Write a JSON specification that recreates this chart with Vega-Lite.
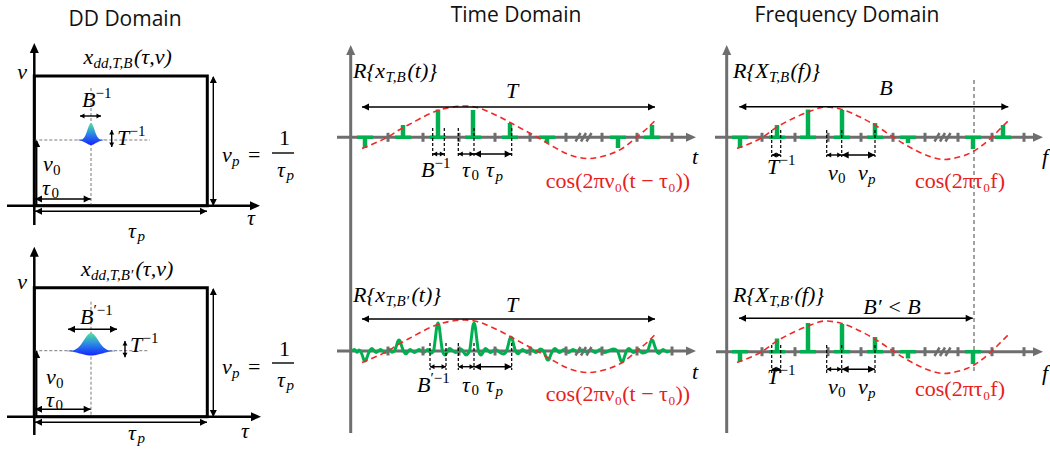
{
"$schema": "https://vega.github.io/schema/vega-lite/v6.json",
"width": 1050, "height": 452, "padding": 0,
"autosize": {"type": "fit", "contains": "padding"},
"background": "white",
"config": {"view": {"stroke": null}},
"datasets": {
"boxes": [{"x":34.3,"x2":207.3,"y":76,"y2":205.7},{"x":34.3,"x2":207.3,"y":287.7,"y2":416.7}],
"segs": [
{"k":"ax","x":34.3,"y":225,"x2":34.3,"y2":48},
{"k":"ax","x":7,"y":205.7,"x2":255,"y2":205.7},
{"k":"ax","x":34.3,"y":435,"x2":34.3,"y2":251},
{"k":"ax","x":7,"y":416.7,"x2":256,"y2":416.7},
{"k":"gax","x":350.7,"y":433,"x2":350.7,"y2":50},
{"k":"gax","x":337,"y":137.3,"x2":690,"y2":137.3},
{"k":"gax","x":337,"y":351,"x2":690,"y2":351},
{"k":"gax","x":726.7,"y":433,"x2":726.7,"y2":50},
{"k":"gax","x":715,"y":137.3,"x2":1037,"y2":137.3},
{"k":"gax","x":716,"y":351.7,"x2":1037,"y2":351.7},
{"k":"ar","x":213.3,"y":77,"x2":213.3,"y2":205},
{"k":"ar","x":35,"y":211.3,"x2":207,"y2":211.3},
{"k":"ar","x":35,"y":199,"x2":90.7,"y2":199},
{"k":"ar","x":36.7,"y":205,"x2":36.7,"y2":141},
{"k":"ar","x":80,"y":116,"x2":101,"y2":116},
{"k":"ar","x":111.7,"y":130,"x2":111.7,"y2":147},
{"k":"ar","x":272,"y":153,"x2":294,"y2":153},
{"k":"ar","x":213.3,"y":289,"x2":213.3,"y2":416},
{"k":"ar","x":35,"y":422.3,"x2":207,"y2":422.3},
{"k":"ar","x":35,"y":409.3,"x2":90.7,"y2":409.3},
{"k":"ar","x":36.7,"y":416,"x2":36.7,"y2":351},
{"k":"ar","x":68,"y":329.3,"x2":117,"y2":329.3},
{"k":"ar","x":125,"y":341,"x2":125,"y2":357.3},
{"k":"ar","x":272,"y":363,"x2":294,"y2":363},
{"k":"ar","x":362,"y":107,"x2":655,"y2":107},
{"k":"ar","x":432.7,"y":154,"x2":444.3,"y2":154},
{"k":"ar","x":458.3,"y":154,"x2":474,"y2":154},
{"k":"ar","x":474,"y":154,"x2":511.7,"y2":154},
{"k":"ar","x":362,"y":319,"x2":655,"y2":319},
{"k":"ar","x":430,"y":366.7,"x2":446,"y2":366.7},
{"k":"ar","x":458.3,"y":366.7,"x2":474,"y2":366.7},
{"k":"ar","x":474,"y":366.7,"x2":511.7,"y2":366.7},
{"k":"ar","x":739.3,"y":106.7,"x2":1008.3,"y2":106.7},
{"k":"ar","x":771.7,"y":155,"x2":780.7,"y2":155},
{"k":"ar","x":826.7,"y":155,"x2":841.7,"y2":155},
{"k":"ar","x":841.7,"y":155,"x2":875,"y2":155},
{"k":"ar","x":739,"y":318.3,"x2":972.7,"y2":318.3},
{"k":"ar","x":771.7,"y":369.3,"x2":780.7,"y2":369.3},
{"k":"ar","x":826.7,"y":369.3,"x2":841.7,"y2":369.3},
{"k":"ar","x":841.7,"y":369.3,"x2":875,"y2":369.3},
{"k":"tick","x":388,"y":132.8,"x2":388,"y2":141.8},
{"k":"tick","x":423,"y":132.8,"x2":423,"y2":141.8},
{"k":"tick","x":459,"y":132.8,"x2":459,"y2":141.8},
{"k":"tick","x":495,"y":132.8,"x2":495,"y2":141.8},
{"k":"tick","x":530,"y":132.8,"x2":530,"y2":141.8},
{"k":"tick","x":566,"y":132.8,"x2":566,"y2":141.8},
{"k":"tick","x":602,"y":132.8,"x2":602,"y2":141.8},
{"k":"tick","x":637,"y":132.8,"x2":637,"y2":141.8},
{"k":"tick","x":672,"y":132.8,"x2":672,"y2":141.8},
{"k":"tick","x":388,"y":346.5,"x2":388,"y2":355.5},
{"k":"tick","x":423,"y":346.5,"x2":423,"y2":355.5},
{"k":"tick","x":459,"y":346.5,"x2":459,"y2":355.5},
{"k":"tick","x":495,"y":346.5,"x2":495,"y2":355.5},
{"k":"tick","x":530,"y":346.5,"x2":530,"y2":355.5},
{"k":"tick","x":566,"y":346.5,"x2":566,"y2":355.5},
{"k":"tick","x":602,"y":346.5,"x2":602,"y2":355.5},
{"k":"tick","x":637,"y":346.5,"x2":637,"y2":355.5},
{"k":"tick","x":672,"y":346.5,"x2":672,"y2":355.5},
{"k":"tick","x":762,"y":132.8,"x2":762,"y2":141.8},
{"k":"tick","x":795,"y":132.8,"x2":795,"y2":141.8},
{"k":"tick","x":828,"y":132.8,"x2":828,"y2":141.8},
{"k":"tick","x":861,"y":132.8,"x2":861,"y2":141.8},
{"k":"tick","x":893,"y":132.8,"x2":893,"y2":141.8},
{"k":"tick","x":925,"y":132.8,"x2":925,"y2":141.8},
{"k":"tick","x":958,"y":132.8,"x2":958,"y2":141.8},
{"k":"tick","x":992,"y":132.8,"x2":992,"y2":141.8},
{"k":"tick","x":1024,"y":132.8,"x2":1024,"y2":141.8},
{"k":"tick","x":762,"y":347.2,"x2":762,"y2":356.2},
{"k":"tick","x":795,"y":347.2,"x2":795,"y2":356.2},
{"k":"tick","x":828,"y":347.2,"x2":828,"y2":356.2},
{"k":"tick","x":861,"y":347.2,"x2":861,"y2":356.2},
{"k":"tick","x":893,"y":347.2,"x2":893,"y2":356.2},
{"k":"tick","x":925,"y":347.2,"x2":925,"y2":356.2},
{"k":"tick","x":958,"y":347.2,"x2":958,"y2":356.2},
{"k":"tick","x":992,"y":347.2,"x2":992,"y2":356.2},
{"k":"tick","x":1024,"y":347.2,"x2":1024,"y2":356.2},
{"k":"slash","x":575.5,"y":141.5,"x2":580.5,"y2":133},
{"k":"slash","x":581,"y":141.5,"x2":586,"y2":133},
{"k":"slash","x":586.5,"y":141.5,"x2":591.5,"y2":133},
{"k":"slash","x":575.5,"y":355.5,"x2":580.5,"y2":347},
{"k":"slash","x":581,"y":355.5,"x2":586,"y2":347},
{"k":"slash","x":586.5,"y":355.5,"x2":591.5,"y2":347},
{"k":"slash","x":934.5,"y":141.5,"x2":939.5,"y2":133},
{"k":"slash","x":940,"y":141.5,"x2":945,"y2":133},
{"k":"slash","x":945.5,"y":141.5,"x2":950.5,"y2":133},
{"k":"slash","x":934.5,"y":356,"x2":939.5,"y2":347.5},
{"k":"slash","x":940,"y":356,"x2":945,"y2":347.5},
{"k":"slash","x":945.5,"y":356,"x2":950.5,"y2":347.5},
{"k":"dash","x":432.7,"y":128,"x2":432.7,"y2":157},
{"k":"dash","x":444.3,"y":128,"x2":444.3,"y2":157},
{"k":"dash","x":458.3,"y":128,"x2":458.3,"y2":157},
{"k":"dash","x":474,"y":128,"x2":474,"y2":157},
{"k":"dash","x":511.7,"y":128,"x2":511.7,"y2":157},
{"k":"dash","x":430,"y":343,"x2":430,"y2":370},
{"k":"dash","x":446,"y":343,"x2":446,"y2":370},
{"k":"dash","x":458.3,"y":343,"x2":458.3,"y2":370},
{"k":"dash","x":474,"y":343,"x2":474,"y2":370},
{"k":"dash","x":511.7,"y":343,"x2":511.7,"y2":370},
{"k":"dash","x":771.7,"y":130,"x2":771.7,"y2":157},
{"k":"dash","x":780.7,"y":130,"x2":780.7,"y2":157},
{"k":"dash","x":826.7,"y":130,"x2":826.7,"y2":157},
{"k":"dash","x":841.7,"y":130,"x2":841.7,"y2":157},
{"k":"dash","x":875,"y":130,"x2":875,"y2":157},
{"k":"dash","x":771.7,"y":345,"x2":771.7,"y2":373},
{"k":"dash","x":780.7,"y":345,"x2":780.7,"y2":373},
{"k":"dash","x":826.7,"y":345,"x2":826.7,"y2":373},
{"k":"dash","x":841.7,"y":345,"x2":841.7,"y2":373},
{"k":"dash","x":875,"y":345,"x2":875,"y2":373},
{"k":"gdash","x":34.3,"y":140,"x2":150,"y2":140},
{"k":"gdash","x":91,"y":88,"x2":91,"y2":205.7},
{"k":"gdash","x":34.3,"y":350.7,"x2":148,"y2":350.7},
{"k":"gdash","x":91,"y":301.7,"x2":91,"y2":416.7},
{"k":"vdash","x":974,"y":80,"x2":974,"y2":372}
],
"heads": [
{"x":34.3,"y":43,"d":"u","z":"big","c":"a"},
{"x":260,"y":205.7,"d":"r","z":"big","c":"a"},
{"x":34.3,"y":246.7,"d":"u","z":"big","c":"a"},
{"x":261,"y":416.7,"d":"r","z":"big","c":"a"},
{"x":350.7,"y":45,"d":"u","z":"big","c":"g"},
{"x":696,"y":137.3,"d":"r","z":"big","c":"g"},
{"x":696,"y":351,"d":"r","z":"big","c":"g"},
{"x":726.7,"y":45,"d":"u","z":"big","c":"g"},
{"x":1043,"y":137.3,"d":"r","z":"big","c":"g"},
{"x":1043,"y":351.7,"d":"r","z":"big","c":"g"},
{"x":213.3,"y":76,"d":"u","z":"mid"},
{"x":213.3,"y":206,"d":"d","z":"mid"},
{"x":35,"y":211.3,"d":"l","z":"mid"},
{"x":207,"y":211.3,"d":"r","z":"mid"},
{"x":35,"y":199,"d":"l","z":"mid"},
{"x":90.7,"y":199,"d":"r","z":"mid"},
{"x":36.7,"y":140,"d":"u","z":"mid"},
{"x":80,"y":116,"d":"l","z":"sm"},
{"x":101,"y":116,"d":"r","z":"sm"},
{"x":111.7,"y":130,"d":"u","z":"sm"},
{"x":111.7,"y":147,"d":"d","z":"sm"},
{"x":213.3,"y":288,"d":"u","z":"mid"},
{"x":213.3,"y":417,"d":"d","z":"mid"},
{"x":35,"y":422.3,"d":"l","z":"mid"},
{"x":207,"y":422.3,"d":"r","z":"mid"},
{"x":35,"y":409.3,"d":"l","z":"mid"},
{"x":90.7,"y":409.3,"d":"r","z":"mid"},
{"x":36.7,"y":351,"d":"u","z":"mid"},
{"x":68,"y":329.3,"d":"l","z":"mid"},
{"x":117,"y":329.3,"d":"r","z":"mid"},
{"x":125,"y":341,"d":"u","z":"sm"},
{"x":125,"y":357.3,"d":"d","z":"sm"},
{"x":362,"y":107,"d":"l","z":"mid"},
{"x":655,"y":107,"d":"r","z":"mid"},
{"x":432.7,"y":154,"d":"l","z":"sm"},
{"x":444.3,"y":154,"d":"r","z":"sm"},
{"x":458.3,"y":154,"d":"l","z":"sm"},
{"x":474,"y":154,"d":"r","z":"sm"},
{"x":474,"y":154,"d":"l","z":"mid"},
{"x":511.7,"y":154,"d":"r","z":"mid"},
{"x":362,"y":319,"d":"l","z":"mid"},
{"x":655,"y":319,"d":"r","z":"mid"},
{"x":430,"y":366.7,"d":"l","z":"sm"},
{"x":446,"y":366.7,"d":"r","z":"sm"},
{"x":458.3,"y":366.7,"d":"l","z":"sm"},
{"x":474,"y":366.7,"d":"r","z":"sm"},
{"x":474,"y":366.7,"d":"l","z":"mid"},
{"x":511.7,"y":366.7,"d":"r","z":"mid"},
{"x":739.3,"y":106.7,"d":"l","z":"mid"},
{"x":1008.3,"y":106.7,"d":"r","z":"mid"},
{"x":771.7,"y":155,"d":"l","z":"sm"},
{"x":780.7,"y":155,"d":"r","z":"sm"},
{"x":826.7,"y":155,"d":"l","z":"sm"},
{"x":841.7,"y":155,"d":"r","z":"sm"},
{"x":841.7,"y":155,"d":"l","z":"mid"},
{"x":875,"y":155,"d":"r","z":"mid"},
{"x":739,"y":318.3,"d":"l","z":"mid"},
{"x":972.7,"y":318.3,"d":"r","z":"mid"},
{"x":771.7,"y":369.3,"d":"l","z":"sm"},
{"x":780.7,"y":369.3,"d":"r","z":"sm"},
{"x":826.7,"y":369.3,"d":"l","z":"sm"},
{"x":841.7,"y":369.3,"d":"r","z":"sm"},
{"x":841.7,"y":369.3,"d":"l","z":"mid"},
{"x":875,"y":369.3,"d":"r","z":"mid"}
],
"spikes": [
{"x":365,"y":137.3,"y2":148,"lo":357,"hi":373},
{"x":403,"y":137.3,"y2":125,"lo":395,"hi":411},
{"x":438,"y":137.3,"y2":109.5,"lo":430,"hi":446},
{"x":473,"y":137.3,"y2":110,"lo":465,"hi":481},
{"x":510,"y":137.3,"y2":123,"lo":502,"hi":518},
{"x":547,"y":137.3,"y2":143,"lo":539,"hi":555},
{"x":618,"y":137.3,"y2":148,"lo":610,"hi":626},
{"x":652,"y":137.3,"y2":125,"lo":644,"hi":660},
{"x":740,"y":137.3,"y2":148,"lo":732,"hi":748},
{"x":777,"y":137.3,"y2":125,"lo":769,"hi":785},
{"x":808,"y":137.3,"y2":109.5,"lo":800,"hi":816},
{"x":842,"y":137.3,"y2":110,"lo":834,"hi":850},
{"x":875,"y":137.3,"y2":123,"lo":867,"hi":883},
{"x":908,"y":137.3,"y2":143,"lo":900,"hi":916},
{"x":973,"y":137.3,"y2":149,"lo":965,"hi":981},
{"x":1003,"y":137.3,"y2":125,"lo":995,"hi":1011},
{"x":740,"y":351.7,"y2":361.7,"lo":732,"hi":748},
{"x":777,"y":351.7,"y2":338.5,"lo":769,"hi":785},
{"x":808,"y":351.7,"y2":323,"lo":800,"hi":816},
{"x":842,"y":351.7,"y2":324,"lo":834,"hi":850},
{"x":875,"y":351.7,"y2":337,"lo":867,"hi":883},
{"x":908,"y":351.7,"y2":358.5,"lo":900,"hi":916},
{"x":973,"y":351.7,"y2":364,"lo":965,"hi":981}
],
"wave": [
{"x":352,"y":351},{"x":354.5,"y":349.5},{"x":357,"y":352.3},{"x":359,"y":350},{"x":360.5,"y":351},
{"x":362.5,"y":356},{"x":363.8,"y":359.8},{"x":365,"y":361},{"x":366.2,"y":359.8},{"x":367.5,"y":356},{"x":369.5,"y":351},
{"x":372,"y":348.5},{"x":376,"y":352.5},{"x":380.5,"y":349.5},{"x":385,"y":352.5},{"x":389.5,"y":349.5},{"x":392,"y":352.2},{"x":394.5,"y":351},
{"x":396.5,"y":345.5},{"x":397.8,"y":341.3},{"x":399,"y":340},{"x":400.2,"y":341.3},{"x":401.5,"y":345.5},{"x":403.5,"y":351},
{"x":406,"y":353.8},{"x":410,"y":349.5},{"x":414.5,"y":352.5},{"x":419,"y":349.5},{"x":423.5,"y":352.5},{"x":428,"y":349.5},{"x":431,"y":353.3},{"x":433.5,"y":351},
{"x":435.5,"y":337},{"x":436.8,"y":326.4},{"x":438,"y":323},{"x":439.2,"y":326.4},{"x":440.5,"y":337},{"x":442.5,"y":351},
{"x":445,"y":355},{"x":449.5,"y":348.5},{"x":455.5,"y":352.5},{"x":461,"y":349},{"x":466,"y":354.8},{"x":469.5,"y":351},
{"x":471.5,"y":337},{"x":472.8,"y":326.4},{"x":474,"y":323},{"x":475.2,"y":326.4},{"x":476.5,"y":337},{"x":478.5,"y":351},
{"x":481,"y":355},{"x":485.5,"y":348.5},{"x":490.5,"y":352.5},{"x":495.5,"y":349.5},{"x":500,"y":352.5},{"x":503.5,"y":354},{"x":506.5,"y":351},
{"x":508.5,"y":344},{"x":509.8,"y":338.7},{"x":511,"y":337},{"x":512.2,"y":338.7},{"x":513.5,"y":344},{"x":515.5,"y":351},
{"x":518,"y":353.8},{"x":522.5,"y":349.5},{"x":527,"y":352.5},{"x":531.5,"y":349.5},{"x":536,"y":352.5},{"x":540.5,"y":349},{"x":543.5,"y":351},
{"x":545.5,"y":355.5},{"x":546.8,"y":358.9},{"x":548,"y":360},{"x":549.2,"y":358.9},{"x":550.5,"y":355.5},{"x":552.5,"y":351},
{"x":555,"y":348.5},{"x":559.5,"y":352.5},{"x":564,"y":349.5},{"x":568.5,"y":352.5},{"x":573,"y":349.5},{"x":577.5,"y":352},{"x":582,"y":350},{"x":586.5,"y":352},{"x":591,"y":350},{"x":595.5,"y":352.5},{"x":600,"y":349.5},{"x":604.5,"y":352.5},{"x":609.5,"y":350.5},{"x":613.5,"y":349},{"x":617.5,"y":351},
{"x":619.5,"y":356.5},{"x":620.8,"y":360.7},{"x":622,"y":362},{"x":623.2,"y":360.7},{"x":624.5,"y":356.5},{"x":626.5,"y":351},
{"x":629,"y":348.5},{"x":633.5,"y":352.5},{"x":638,"y":349.5},{"x":642.5,"y":353},{"x":647.5,"y":351},
{"x":649.5,"y":345.5},{"x":650.8,"y":341.3},{"x":652,"y":340},{"x":653.2,"y":341.3},{"x":654.5,"y":345.5},{"x":656.5,"y":351},
{"x":659,"y":353.5},{"x":663,"y":349.5},{"x":667,"y":352},{"x":670,"y":351}
],
"red": [
{"c":"t1","x":362,"y":148.5},{"c":"t1","x":374,"y":143.5},{"c":"t1","x":387,"y":137.5},{"c":"t1","x":399,"y":130},{"c":"t1","x":412,"y":123},{"c":"t1","x":425,"y":116},{"c":"t1","x":438,"y":110.5},{"c":"t1","x":452,"y":107},{"c":"t1","x":465,"y":106},{"c":"t1","x":477,"y":107.5},{"c":"t1","x":488,"y":111.5},{"c":"t1","x":500,"y":117},{"c":"t1","x":512,"y":123.5},{"c":"t1","x":524,"y":130},{"c":"t1","x":537,"y":137},{"c":"t1","x":553,"y":146.5},{"c":"t1","x":570,"y":155},{"c":"t1","x":588,"y":158.5},{"c":"t1","x":606,"y":155.5},{"c":"t1","x":623,"y":148},{"c":"t1","x":635,"y":138.5},{"c":"t1","x":647,"y":128.5},{"c":"t1","x":657,"y":118.5},
{"c":"t2","x":362,"y":362.5},{"c":"t2","x":374,"y":357.5},{"c":"t2","x":387,"y":351.5},{"c":"t2","x":399,"y":344},{"c":"t2","x":412,"y":337},{"c":"t2","x":425,"y":330},{"c":"t2","x":438,"y":324.5},{"c":"t2","x":452,"y":321},{"c":"t2","x":465,"y":320},{"c":"t2","x":477,"y":321.5},{"c":"t2","x":488,"y":325.5},{"c":"t2","x":500,"y":331},{"c":"t2","x":512,"y":337.5},{"c":"t2","x":524,"y":344},{"c":"t2","x":537,"y":351},{"c":"t2","x":553,"y":360.5},{"c":"t2","x":570,"y":369},{"c":"t2","x":588,"y":372.5},{"c":"t2","x":606,"y":369.5},{"c":"t2","x":623,"y":362},{"c":"t2","x":635,"y":352.5},{"c":"t2","x":647,"y":342.5},{"c":"t2","x":657,"y":332.5},
{"c":"f1","x":737,"y":148.5},{"c":"f1","x":750,"y":143.5},{"c":"f1","x":762,"y":137.5},{"c":"f1","x":777,"y":127},{"c":"f1","x":792,"y":119},{"c":"f1","x":807,"y":112.5},{"c":"f1","x":825,"y":107},{"c":"f1","x":842,"y":109.5},{"c":"f1","x":863,"y":118.5},{"c":"f1","x":878,"y":127},{"c":"f1","x":893,"y":137},{"c":"f1","x":905,"y":144.5},{"c":"f1","x":917,"y":151},{"c":"f1","x":930,"y":156.5},{"c":"f1","x":943,"y":159.5},{"c":"f1","x":955,"y":158},{"c":"f1","x":967,"y":154.5},{"c":"f1","x":980,"y":147},{"c":"f1","x":992,"y":137},{"c":"f1","x":1001,"y":128},{"c":"f1","x":1010,"y":119},
{"c":"f2","x":737,"y":362.5},{"c":"f2","x":750,"y":357.5},{"c":"f2","x":762,"y":351.5},{"c":"f2","x":777,"y":341},{"c":"f2","x":792,"y":333},{"c":"f2","x":807,"y":326.5},{"c":"f2","x":825,"y":321},{"c":"f2","x":842,"y":323.5},{"c":"f2","x":863,"y":332.5},{"c":"f2","x":878,"y":341},{"c":"f2","x":893,"y":351},{"c":"f2","x":905,"y":358.5},{"c":"f2","x":917,"y":365},{"c":"f2","x":930,"y":370.5},{"c":"f2","x":943,"y":373.5},{"c":"f2","x":955,"y":372},{"c":"f2","x":967,"y":368.5},{"c":"f2","x":980,"y":361},{"c":"f2","x":992,"y":351},{"c":"f2","x":1001,"y":342},{"c":"f2","x":1010,"y":333}
],
"blobs": [
{"b":"1","x":77,"y":139.8,"y2":140.1},{"b":"1","x":81,"y":139.7,"y2":140.7},{"b":"1","x":84,"y":137.7,"y2":141.9},{"b":"1","x":86,"y":133.9,"y2":143},{"b":"1","x":88,"y":128.2,"y2":144.2},{"b":"1","x":89.5,"y":124.5,"y2":144.8},{"b":"1","x":91,"y":123,"y2":145},{"b":"1","x":92.5,"y":124.5,"y2":144.8},{"b":"1","x":94,"y":128.2,"y2":144.2},{"b":"1","x":96,"y":133.9,"y2":143},{"b":"1","x":98,"y":137.7,"y2":141.9},{"b":"1","x":101,"y":139.7,"y2":140.7},{"b":"1","x":105,"y":139.8,"y2":140.1},
{"b":"2","x":67,"y":350.8,"y2":351.3},{"b":"2","x":71,"y":350.7,"y2":351.6},{"b":"2","x":75,"y":349.7,"y2":352.3},{"b":"2","x":78,"y":347.8,"y2":352.9},{"b":"2","x":81,"y":344.5,"y2":353.7},{"b":"2","x":83,"y":341.6,"y2":354.3},{"b":"2","x":85,"y":338.5,"y2":354.8},{"b":"2","x":87,"y":335.7,"y2":355.2},{"b":"2","x":89,"y":333.7,"y2":355.4},{"b":"2","x":91,"y":333,"y2":355.5},{"b":"2","x":93,"y":333.7,"y2":355.4},{"b":"2","x":95,"y":335.7,"y2":355.2},{"b":"2","x":97,"y":338.5,"y2":354.8},{"b":"2","x":99,"y":341.6,"y2":354.3},{"b":"2","x":101,"y":344.5,"y2":353.7},{"b":"2","x":104,"y":347.8,"y2":352.9},{"b":"2","x":107,"y":349.7,"y2":352.3},{"b":"2","x":111,"y":350.7,"y2":351.6},{"b":"2","x":115,"y":350.8,"y2":351.3}
],
"txt": [
{"k":"title","x":125,"y":20,"t":"DD Domain"},
{"k":"title","x":516,"y":16,"t":"Time Domain"},
{"k":"title","x":847,"y":16,"t":"Frequency Domain"},
{"k":"mi","x":83.5,"y":57,"t":"x"},
{"k":"si","x":93.5,"y":63,"t":"dd,T,B"},
{"k":"mi","x":134,"y":57,"t":"(τ,ν)"},
{"k":"mc","x":22,"y":72,"t":"ν"},
{"k":"mi","x":82,"y":100,"t":"B"},
{"k":"su","x":95.5,"y":93,"t":"−1"},
{"k":"mi","x":117,"y":138,"t":"T"},
{"k":"su","x":129.5,"y":131,"t":"−1"},
{"k":"mi","x":43,"y":164,"t":"ν"},
{"k":"su","x":53,"y":170,"t":"0"},
{"k":"mi","x":42,"y":188,"t":"τ"},
{"k":"su","x":51.5,"y":193,"t":"0"},
{"k":"mi","x":128,"y":231,"t":"τ"},
{"k":"si","x":137.5,"y":236,"t":"p"},
{"k":"mc","x":251,"y":218,"t":"τ"},
{"k":"mi","x":222,"y":155,"t":"ν"},
{"k":"si","x":232,"y":161,"t":"p"},
{"k":"mu","x":248,"y":155,"t":"="},
{"k":"mu","x":279,"y":138,"t":"1"},
{"k":"mi","x":277,"y":170,"t":"τ"},
{"k":"si","x":286.5,"y":175,"t":"p"},
{"k":"mi","x":81,"y":269,"t":"x"},
{"k":"si","x":91,"y":275,"t":"dd,T,B′"},
{"k":"mi","x":135.5,"y":269,"t":"(τ,ν)"},
{"k":"mc","x":22,"y":282,"t":"ν"},
{"k":"mi","x":80,"y":317,"t":"B"},
{"k":"su","x":93.5,"y":310,"t":"′−1"},
{"k":"mi","x":130,"y":345,"t":"T"},
{"k":"su","x":142.5,"y":338,"t":"−1"},
{"k":"mi","x":46,"y":377,"t":"ν"},
{"k":"su","x":56,"y":383,"t":"0"},
{"k":"mi","x":46,"y":400,"t":"τ"},
{"k":"su","x":55.5,"y":405,"t":"0"},
{"k":"mi","x":128,"y":433,"t":"τ"},
{"k":"si","x":137.5,"y":438,"t":"p"},
{"k":"mc","x":245,"y":431,"t":"τ"},
{"k":"mi","x":222,"y":367,"t":"ν"},
{"k":"si","x":232,"y":373,"t":"p"},
{"k":"mu","x":248,"y":367,"t":"="},
{"k":"mu","x":279,"y":349,"t":"1"},
{"k":"mi","x":277,"y":380,"t":"τ"},
{"k":"si","x":286.5,"y":385,"t":"p"},
{"k":"mi","x":353,"y":71,"t":"R{x"},
{"k":"si","x":385.5,"y":77,"t":"T,B"},
{"k":"mi","x":407.5,"y":71,"t":"(t)}"},
{"k":"mc","x":512,"y":91,"t":"T"},
{"k":"mi","x":421,"y":170,"t":"B"},
{"k":"su","x":434.5,"y":163,"t":"−1"},
{"k":"mi","x":462,"y":170,"t":"τ"},
{"k":"su","x":471.5,"y":175,"t":"0"},
{"k":"mi","x":486,"y":170,"t":"τ"},
{"k":"si","x":495.5,"y":176,"t":"p"},
{"k":"mc","x":695,"y":157,"t":"t"},
{"k":"r","x":618,"y":181,"t":"cos(2πν₀(t − τ₀))"},
{"k":"mi","x":353,"y":295,"t":"R{x"},
{"k":"si","x":385.5,"y":301,"t":"T,B′"},
{"k":"mi","x":411.5,"y":295,"t":"(t)}"},
{"k":"mc","x":512,"y":305,"t":"T"},
{"k":"mi","x":417,"y":385,"t":"B"},
{"k":"su","x":430.5,"y":378,"t":"′−1"},
{"k":"mi","x":462,"y":385,"t":"τ"},
{"k":"su","x":471.5,"y":390,"t":"0"},
{"k":"mi","x":486,"y":385,"t":"τ"},
{"k":"si","x":495.5,"y":391,"t":"p"},
{"k":"mc","x":695,"y":372,"t":"t"},
{"k":"r","x":618,"y":394,"t":"cos(2πν₀(t − τ₀))"},
{"k":"mi","x":733,"y":71,"t":"R{X"},
{"k":"si","x":769,"y":77,"t":"T,B"},
{"k":"mi","x":790.5,"y":71,"t":"(f)}"},
{"k":"mc","x":886,"y":88,"t":"B"},
{"k":"mi","x":767,"y":167,"t":"T"},
{"k":"su","x":779.5,"y":160,"t":"−1"},
{"k":"mi","x":828,"y":173,"t":"ν"},
{"k":"su","x":838,"y":178,"t":"0"},
{"k":"mi","x":858,"y":173,"t":"ν"},
{"k":"si","x":868,"y":179,"t":"p"},
{"k":"mc","x":1045,"y":157,"t":"f"},
{"k":"r","x":960,"y":181,"t":"cos(2πτ₀f)"},
{"k":"mi","x":733,"y":295,"t":"R{X"},
{"k":"si","x":769,"y":301,"t":"T,B′"},
{"k":"mi","x":794.5,"y":295,"t":"(f)}"},
{"k":"mc","x":892,"y":307,"t":"B′ < B"},
{"k":"mi","x":767,"y":377,"t":"T"},
{"k":"su","x":779.5,"y":370,"t":"−1"},
{"k":"mi","x":828,"y":387,"t":"ν"},
{"k":"su","x":838,"y":392,"t":"0"},
{"k":"mi","x":858,"y":387,"t":"ν"},
{"k":"si","x":868,"y":393,"t":"p"},
{"k":"mc","x":1045,"y":373,"t":"f"},
{"k":"r","x":960,"y":389,"t":"cos(2πτ₀f)"}
]
},
"encoding": {
"x": {"field": "x", "type": "quantitative", "scale": {"domain": [0, 1050], "nice": false, "zero": false}, "axis": null},
"y": {"field": "y", "type": "quantitative", "scale": {"domain": [0, 452], "nice": false, "zero": false, "reverse": true}, "axis": null}
},
"layer": [
{"data": {"name": "boxes"}, "mark": {"type": "rect", "filled": false, "color": "black", "strokeWidth": 3},
 "encoding": {"x2": {"field": "x2"}, "y2": {"field": "y2"}}},
{"data": {"name": "segs"}, "transform": [{"filter": "datum.k == 'gdash'"}],
 "mark": {"type": "rule", "color": "#7a7a7a", "strokeWidth": 1, "strokeDash": [3, 2]},
 "encoding": {"x2": {"field": "x2"}, "y2": {"field": "y2"}}},
{"data": {"name": "segs"}, "transform": [{"filter": "datum.k == 'vdash'"}],
 "mark": {"type": "rule", "color": "#444444", "strokeWidth": 1, "strokeDash": [4, 3]},
 "encoding": {"x2": {"field": "x2"}, "y2": {"field": "y2"}}},
{"data": {"name": "segs"}, "transform": [{"filter": "datum.k == 'ax'"}],
 "mark": {"type": "rule", "color": "black", "strokeWidth": 2.5},
 "encoding": {"x2": {"field": "x2"}, "y2": {"field": "y2"}}},
{"data": {"name": "segs"}, "transform": [{"filter": "datum.k == 'gax'"}],
 "mark": {"type": "rule", "color": "#6e6e6e", "strokeWidth": 3},
 "encoding": {"x2": {"field": "x2"}, "y2": {"field": "y2"}}},
{"data": {"name": "spikes"}, "mark": {"type": "rule", "color": "#00b050", "strokeWidth": 3.5},
 "encoding": {"x": {"field": "lo", "type": "quantitative", "scale": {"domain": [0, 1050], "nice": false, "zero": false}, "axis": null}, "x2": {"field": "hi"}}},
{"data": {"name": "spikes"}, "mark": {"type": "rule", "color": "#00b050", "strokeWidth": 4.5},
 "encoding": {"y2": {"field": "y2"}}},
{"data": {"name": "wave"}, "mark": {"type": "line", "color": "#00b050", "strokeWidth": 3, "interpolate": "monotone"},
 "encoding": {}},
{"data": {"name": "segs"}, "transform": [{"filter": "datum.k == 'tick'"}],
 "mark": {"type": "rule", "color": "#6e6e6e", "strokeWidth": 3},
 "encoding": {"x2": {"field": "x2"}, "y2": {"field": "y2"}}},
{"data": {"name": "segs"}, "transform": [{"filter": "datum.k == 'slash'"}],
 "mark": {"type": "rule", "color": "#6e6e6e", "strokeWidth": 2.5},
 "encoding": {"x2": {"field": "x2"}, "y2": {"field": "y2"}}},
{"data": {"name": "red"}, "mark": {"type": "line", "color": "#f02828", "strokeWidth": 1.6, "strokeDash": [6, 4], "interpolate": "monotone"},
 "encoding": {"detail": {"field": "c"}}},
{"data": {"name": "segs"}, "transform": [{"filter": "datum.k == 'dash'"}],
 "mark": {"type": "rule", "color": "black", "strokeWidth": 1.2, "strokeDash": [3, 2]},
 "encoding": {"x2": {"field": "x2"}, "y2": {"field": "y2"}}},
{"data": {"name": "segs"}, "transform": [{"filter": "datum.k == 'ar'"}],
 "mark": {"type": "rule", "color": "black", "strokeWidth": 1.4},
 "encoding": {"x2": {"field": "x2"}, "y2": {"field": "y2"}}},
{"data": {"name": "heads"}, "transform": [{"filter": "datum.z == 'big' && datum.d == 'u'"}],
 "mark": {"type": "point", "shape": "M0,0L-0.45,1L0.45,1Z", "filled": true, "opacity": 1, "strokeWidth": 0, "size": 400, "angle": 0},
 "encoding": {"color": {"field": "c", "type": "nominal", "scale": {"domain": ["a", "g"], "range": ["black", "#6e6e6e"]}, "legend": null}}},
{"data": {"name": "heads"}, "transform": [{"filter": "datum.z == 'big' && datum.d == 'r'"}],
 "mark": {"type": "point", "shape": "M0,0L-0.45,1L0.45,1Z", "filled": true, "opacity": 1, "strokeWidth": 0, "size": 400, "angle": 90},
 "encoding": {"color": {"field": "c", "type": "nominal", "scale": {"domain": ["a", "g"], "range": ["black", "#6e6e6e"]}, "legend": null}}},
{"data": {"name": "heads"}, "transform": [{"filter": "datum.z == 'mid' && datum.d == 'u'"}],
 "mark": {"type": "point", "shape": "M0,0L-0.5,1L0.5,1Z", "filled": true, "opacity": 1, "strokeWidth": 0, "size": 196, "angle": 0, "color": "black"}},
{"data": {"name": "heads"}, "transform": [{"filter": "datum.z == 'mid' && datum.d == 'r'"}],
 "mark": {"type": "point", "shape": "M0,0L-0.5,1L0.5,1Z", "filled": true, "opacity": 1, "strokeWidth": 0, "size": 196, "angle": 90, "color": "black"}},
{"data": {"name": "heads"}, "transform": [{"filter": "datum.z == 'mid' && datum.d == 'd'"}],
 "mark": {"type": "point", "shape": "M0,0L-0.5,1L0.5,1Z", "filled": true, "opacity": 1, "strokeWidth": 0, "size": 196, "angle": 180, "color": "black"}},
{"data": {"name": "heads"}, "transform": [{"filter": "datum.z == 'mid' && datum.d == 'l'"}],
 "mark": {"type": "point", "shape": "M0,0L-0.5,1L0.5,1Z", "filled": true, "opacity": 1, "strokeWidth": 0, "size": 196, "angle": 270, "color": "black"}},
{"data": {"name": "heads"}, "transform": [{"filter": "datum.z == 'sm' && datum.d == 'u'"}],
 "mark": {"type": "point", "shape": "M0,0L-0.55,1L0.55,1Z", "filled": true, "opacity": 1, "strokeWidth": 0, "size": 81, "angle": 0, "color": "black"}},
{"data": {"name": "heads"}, "transform": [{"filter": "datum.z == 'sm' && datum.d == 'r'"}],
 "mark": {"type": "point", "shape": "M0,0L-0.55,1L0.55,1Z", "filled": true, "opacity": 1, "strokeWidth": 0, "size": 81, "angle": 90, "color": "black"}},
{"data": {"name": "heads"}, "transform": [{"filter": "datum.z == 'sm' && datum.d == 'd'"}],
 "mark": {"type": "point", "shape": "M0,0L-0.55,1L0.55,1Z", "filled": true, "opacity": 1, "strokeWidth": 0, "size": 81, "angle": 180, "color": "black"}},
{"data": {"name": "heads"}, "transform": [{"filter": "datum.z == 'sm' && datum.d == 'l'"}],
 "mark": {"type": "point", "shape": "M0,0L-0.55,1L0.55,1Z", "filled": true, "opacity": 1, "strokeWidth": 0, "size": 81, "angle": 270, "color": "black"}},
{"data": {"name": "blobs"},
 "mark": {"type": "area", "interpolate": "monotone", "color": {"gradient": "linear", "x1": 0, "y1": 0, "x2": 0, "y2": 1, "stops": [{"offset": 0, "color": "#4fe3a0"}, {"offset": 0.5, "color": "#2a86e6"}, {"offset": 1, "color": "#1426ff"}]}},
 "encoding": {"y2": {"field": "y2"}, "detail": {"field": "b"}}},
{"data": {"name": "txt"}, "transform": [{"filter": "datum.k == 'title'"}],
 "mark": {"type": "text", "font": "Open Sans", "fontSize": 21, "align": "center", "baseline": "middle", "color": "#111111"},
 "encoding": {"text": {"field": "t"}}},
{"data": {"name": "txt"}, "transform": [{"filter": "datum.k == 'mi'"}],
 "mark": {"type": "text", "font": "Liberation Serif", "fontStyle": "italic", "fontSize": 22, "align": "left", "baseline": "middle", "color": "black"},
 "encoding": {"text": {"field": "t"}}},
{"data": {"name": "txt"}, "transform": [{"filter": "datum.k == 'mu'"}],
 "mark": {"type": "text", "font": "Liberation Serif", "fontSize": 22, "align": "left", "baseline": "middle", "color": "black"},
 "encoding": {"text": {"field": "t"}}},
{"data": {"name": "txt"}, "transform": [{"filter": "datum.k == 'mc'"}],
 "mark": {"type": "text", "font": "Liberation Serif", "fontStyle": "italic", "fontSize": 22, "align": "center", "baseline": "middle", "color": "black"},
 "encoding": {"text": {"field": "t"}}},
{"data": {"name": "txt"}, "transform": [{"filter": "datum.k == 'si'"}],
 "mark": {"type": "text", "font": "Liberation Serif", "fontStyle": "italic", "fontSize": 15, "align": "left", "baseline": "middle", "color": "black"},
 "encoding": {"text": {"field": "t"}}},
{"data": {"name": "txt"}, "transform": [{"filter": "datum.k == 'su'"}],
 "mark": {"type": "text", "font": "Liberation Serif", "fontSize": 15, "align": "left", "baseline": "middle", "color": "black"},
 "encoding": {"text": {"field": "t"}}},
{"data": {"name": "txt"}, "transform": [{"filter": "datum.k == 'r'"}],
 "mark": {"type": "text", "font": "Liberation Serif", "fontSize": 22, "align": "center", "baseline": "middle", "color": "#e82020"},
 "encoding": {"text": {"field": "t"}}}
]
}
